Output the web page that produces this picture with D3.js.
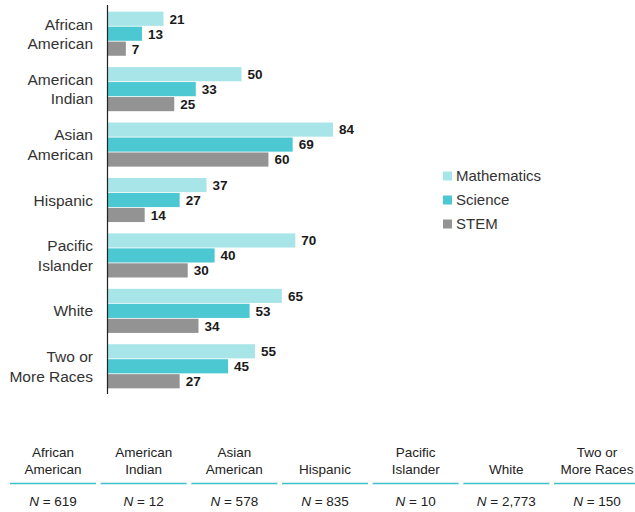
<!DOCTYPE html>
<html><head><meta charset="utf-8">
<script src="https://cdn.jsdelivr.net/npm/d3@7"></script>
<style>body{margin:0;background:#fff;} svg{display:block;font-family:"Liberation Sans",Arial,sans-serif;}</style>
</head><body>
<script>
const categories = [["African","American"],["American","Indian"],["Asian","American"],["Hispanic"],["Pacific","Islander"],["White"],["Two or","More Races"]];
const seriesNames = ["Mathematics","Science","STEM"];
const mathematics = [21,50,84,37,70,65,55];
const science = [13,33,69,27,40,53,45];
const stem = [7,25,60,14,30,34,27];
const sampleSizes = ["619","12","578","835","10","2,773","150"];
const colors = ["#a8e5e8","#4cc8d2","#939393"];

const W=635,H=512;
const svg=d3.select("body").append("svg").attr("width",W).attr("height",H);
const series=[mathematics,science,stem];
const keys=categories.map(c=>c.join(" "));

const x=d3.scaleLinear().domain([0,84]).range([107,333]);
const y=d3.scaleBand().domain(keys).range([6,394]).paddingInner(0.19).paddingOuter(0.095);
const y1=d3.scaleBand().domain(seriesNames).range([0,y.bandwidth()]);

const g=svg.append("g");
keys.forEach((k,i)=>{
  const grp=g.append("g").attr("transform",`translate(0,${y(k)})`);
  seriesNames.forEach((s,j)=>{
    const v=series[j][i];
    grp.append("rect").attr("x",x(0)).attr("y",y1(s)+0.4).attr("width",x(v)-x(0)).attr("height",y1.bandwidth()-0.8).attr("fill",colors[j]);
    grp.append("text").attr("x",x(v)+6).attr("y",y1(s)+y1.bandwidth()/2).attr("dy","0.36em")
      .attr("font-size",13.5).attr("font-weight","bold").attr("fill","#1a1a1a").text(v);
  });
  const lines=categories[i];
  const cy=y(k)+y.bandwidth()/2;
  lines.forEach((t,li)=>{
    g.append("text").attr("x",93).attr("y",cy+(li-(lines.length-1)/2)*19.5).attr("dy","0.36em")
      .attr("text-anchor","end").attr("font-size",15.5).attr("fill","#333").text(t);
  });
});
svg.append("line").attr("x1",107.5).attr("x2",107.5).attr("y1",5).attr("y2",394).attr("stroke","#222").attr("stroke-width",1.2);

// legend
const leg=svg.append("g");
seriesNames.forEach((s,j)=>{
  const ly=176+j*24;
  leg.append("rect").attr("x",443).attr("y",ly-4.5).attr("width",9).attr("height",9).attr("fill",colors[j]);
  leg.append("text").attr("x",456).attr("y",ly).attr("dy","0.36em").attr("font-size",15).attr("fill","#333").text(s);
});

// table
const cx=d3.scalePoint().domain(keys).range([53,597]);
keys.forEach((k,i)=>{
  const c=cx(k);
  const lines=categories[i];
  lines.forEach((t,li)=>{
    const ly = lines.length===1 ? 469 : 452+li*17;
    svg.append("text").attr("x",c).attr("y",ly).attr("dy","0.36em").attr("text-anchor","middle")
      .attr("font-size",13.5).attr("fill","#222").text(t);
  });
  svg.append("line").attr("x1",c-43).attr("x2",c+43).attr("y1",483.5).attr("y2",483.5).attr("stroke","#3cc0cc").attr("stroke-width",1.6);
  const t=svg.append("text").attr("x",c).attr("y",501).attr("dy","0.36em").attr("text-anchor","middle").attr("font-size",13.5).attr("fill","#222");
  t.append("tspan").attr("font-style","italic").text("N");
  t.append("tspan").text(" = "+sampleSizes[i]);
});
</script>
</body></html>
